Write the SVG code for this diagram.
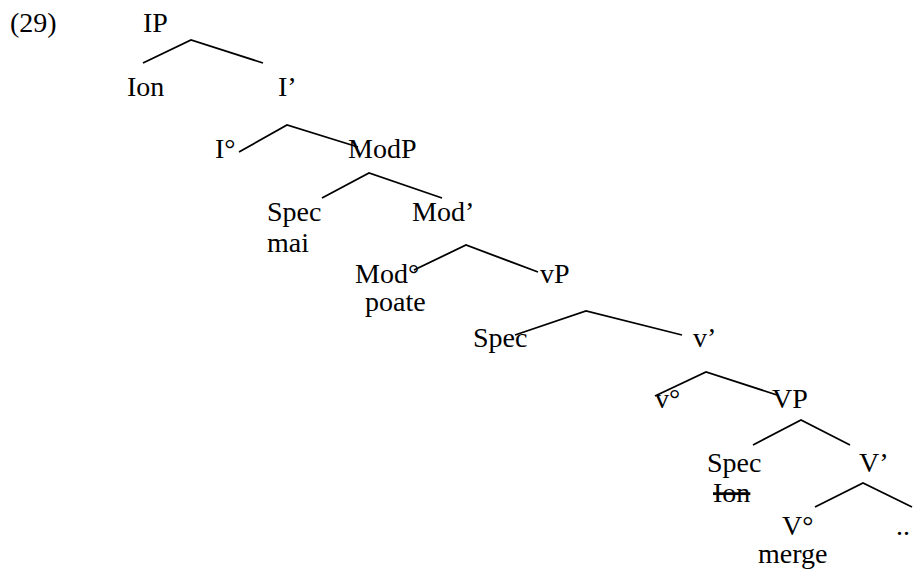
<svg xmlns="http://www.w3.org/2000/svg" width="913" height="572" viewBox="0 0 913 572">
<style>
text { font-family: "Liberation Serif", "Times New Roman", serif; font-size: 28px; fill: #000; }
.br { fill: none; stroke: #000; stroke-width: 1.8; stroke-linejoin: miter; }
.strike { text-decoration: line-through; }
</style>
<rect width="913" height="572" fill="#fff"/>
<text id="ex-num" x="10" y="32">(29)</text>
<g id="connectors">
<polyline class="br" points="143,63 191,40 263,63"/>
<polyline class="br" points="239,152 287,125 358,147"/>
<polyline class="br" points="322,198 369,173 442,198"/>
<polyline class="br" points="414,270 466,245 538,272"/>
<polyline class="br" points="515,335 586,311 682,335"/>
<polyline class="br" points="655,396 706,372 777,395"/>
<polyline class="br" points="753,445 801,420 850,445"/>
<polyline class="br" points="815,507 863,483 912,507"/>
</g>
<g id="n-IP"><text x="143" y="32">IP</text></g>
<g id="n-Ion"><text x="127" y="96">Ion</text></g>
<g id="n-Ibar"><text x="278" y="96">I’</text></g>
<g id="n-I0"><text x="215" y="158">I°</text></g>
<g id="n-ModP"><text x="348" y="158">ModP</text></g>
<g id="n-SpecMod"><text x="267" y="221">Spec</text><text x="267" y="252">mai</text></g>
<g id="n-Modbar"><text x="412" y="221">Mod’</text></g>
<g id="n-Mod0"><text x="355" y="283">Mod°</text><text x="365" y="311">poate</text></g>
<g id="n-vP"><text x="540" y="283">vP</text></g>
<g id="n-SpecvP"><text x="473" y="347">Spec</text></g>
<g id="n-vbar"><text x="693" y="347">v’</text></g>
<g id="n-v0"><text x="655" y="408">v°</text></g>
<g id="n-VP"><text x="772" y="408">VP</text></g>
<g id="n-SpecVP"><text x="707" y="472">Spec</text><text class="strike" x="713" y="502">Ion</text></g>
<g id="n-Vbar"><text x="859" y="472">V’</text></g>
<g id="n-V0"><text x="782" y="535">V°</text><text x="758" y="563">merge</text></g>
<g id="n-dots"><text x="896" y="535">..</text></g>
</svg>
